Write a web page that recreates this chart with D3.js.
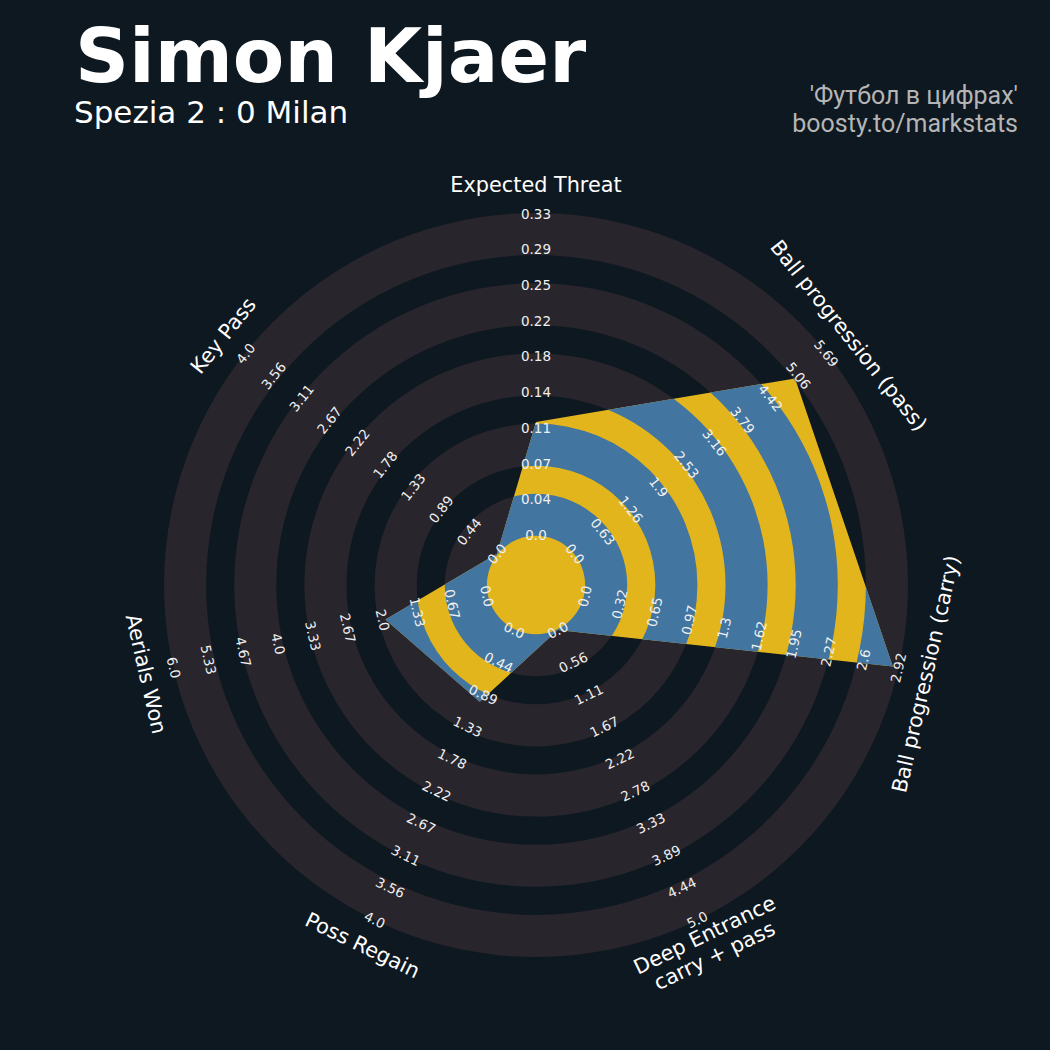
<!DOCTYPE html>
<html><head><meta charset="utf-8">
<script src="https://cdn.jsdelivr.net/npm/d3@7"></script>
<style>html,body{margin:0;padding:0;background:#0e1820;} svg{display:block;}</style>
</head><body>
<svg id="chart" width="1050" height="1050"></svg>
<script>
// ---- data ----
const params = ["Expected Threat", "Ball progression (pass)", "Ball progression (carry)",
  "Deep Entrance\ncarry + pass", "Poss Regain", "Aerials Won", "Key Pass"];
const minRange = [0, 0, 0, 0, 0, 0, 0];
const maxRange = [0.33, 5.69, 2.92, 5.0, 4.0, 6.0, 4.0];
const values = [0.116, 4.98, 2.87, 0, 0.99, 1.95, 0];
const tickLabels = [
  ["0.0","0.04","0.07","0.11","0.14","0.18","0.22","0.25","0.29","0.33"],
  ["0.0","0.63","1.26","1.9","2.53","3.16","3.79","4.42","5.06","5.69"],
  ["0.0","0.32","0.65","0.97","1.3","1.62","1.95","2.27","2.6","2.92"],
  ["0.0","0.56","1.11","1.67","2.22","2.78","3.33","3.89","4.44","5.0"],
  ["0.0","0.44","0.89","1.33","1.78","2.22","2.67","3.11","3.56","4.0"],
  ["0.0","0.67","1.33","2.0","2.67","3.33","4.0","4.67","5.33","6.0"],
  ["0.0","0.44","0.89","1.33","1.78","2.22","2.67","3.11","3.56","4.0"]
];
const title = "Simon Kjaer";
const subtitle = "Spezia 2 : 0 Milan";
const credits = ["'Футбол в цифрах'", "boosty.to/markstats"];

// ---- layout ----
const W = 1050, H = 1050, cx = 536, cy = 585;
const outerR = 372, unit = outerR / 13.25;
const centerR = 1.75 * unit, ringW = 1.5 * unit, gapW = 1 * unit;
const rMin = 50, rMax = 371.5, labelR = 400;
const BG = "#0e1820", RING = "#28252c", BLUE = "#4275a0", YELLOW = "#e3b51d";

const svg = d3.select("#chart");
svg.append("rect").attr("width", W).attr("height", H).attr("fill", BG);

const n = params.length;
const angle = i => i * 2 * Math.PI / n; // clockwise from top
const scales = params.map((p, i) => d3.scaleLinear().domain([minRange[i], maxRange[i]]).range([rMin, rMax]));
const rot = i => {
  let a = angle(i) * 180 / Math.PI;
  if (a > 90 && a < 270) a -= 180;
  else if (a >= 270) a -= 360;
  return a;
};

const g = svg.append("g").attr("transform", `translate(${cx},${cy})`);

const rings = d3.range(5).map(k => {
  const inner = centerR + k * (ringW + gapW);
  return {inner, outer: inner + ringW};
});
const arc = d3.arc().startAngle(0).endAngle(2 * Math.PI);

g.selectAll("path.ring").data(rings).join("path").attr("class", "ring")
  .attr("d", d => arc({innerRadius: d.inner, outerRadius: d.outer}))
  .attr("fill", RING);

const defs = svg.append("defs");
defs.append("clipPath").attr("id", "ringClip")
  .selectAll("path").data(rings).join("path")
  .attr("d", d => arc({innerRadius: d.inner, outerRadius: d.outer}));

const radial = d3.lineRadial()
  .angle((d, i) => angle(i))
  .radius((d, i) => scales[i](d))
  .curve(d3.curveLinearClosed);

g.append("path").attr("d", radial(values)).attr("fill", YELLOW);
g.append("path").attr("d", radial(values)).attr("fill", BLUE).attr("clip-path", "url(#ringClip)");

// range labels
params.forEach((p, i) => {
  const a = angle(i);
  const nT = tickLabels[i].length;
  tickLabels[i].forEach((t, j) => {
    const v = minRange[i] + (maxRange[i] - minRange[i]) * j / (nT - 1);
    const r = scales[i](v);
    g.append("text")
      .attr("transform", `translate(${r * Math.sin(a)},${-r * Math.cos(a)}) rotate(${rot(i)})`)
      .attr("text-anchor", "middle").attr("dominant-baseline", "central")
      .attr("font-family", "DejaVu Sans").attr("font-size", 13.5)
      .attr("fill", "#f0f0f0").text(t);
  });
});

// param labels
params.forEach((p, i) => {
  const a = angle(i);
  const lines = p.split("\n");
  const t = g.append("text")
    .attr("transform", `translate(${labelR * Math.sin(a)},${-labelR * Math.cos(a)}) rotate(${rot(i)})`)
    .attr("text-anchor", "middle").attr("dominant-baseline", "central")
    .attr("font-family", "DejaVu Sans").attr("font-size", 20.8).attr("fill", "#ffffff");
  lines.forEach((l, k) => {
    t.append("tspan").attr("x", 0)
      .attr("dy", k === 0 ? `${-(lines.length - 1) * 0.55}em` : "1.1em")
      .text(l);
  });
});

// titles
svg.append("text").attr("x", 75).attr("y", 82)
  .attr("font-family", "DejaVu Sans").attr("font-weight", "bold").attr("font-size", 75)
  .attr("fill", "#ffffff").text(title);
svg.append("text").attr("x", 74).attr("y", 123)
  .attr("font-family", "DejaVu Sans").attr("font-size", 31)
  .attr("fill", "#ffffff").text(subtitle);
credits.forEach((c, k) => {
  svg.append("text").attr("x", 1018).attr("y", 104 + k * 28)
    .attr("text-anchor", "end")
    .attr("font-family", "Roboto").attr("font-size", 25)
    .attr("fill", "#b5b5b5").text(c);
});
</script>
</body></html>
